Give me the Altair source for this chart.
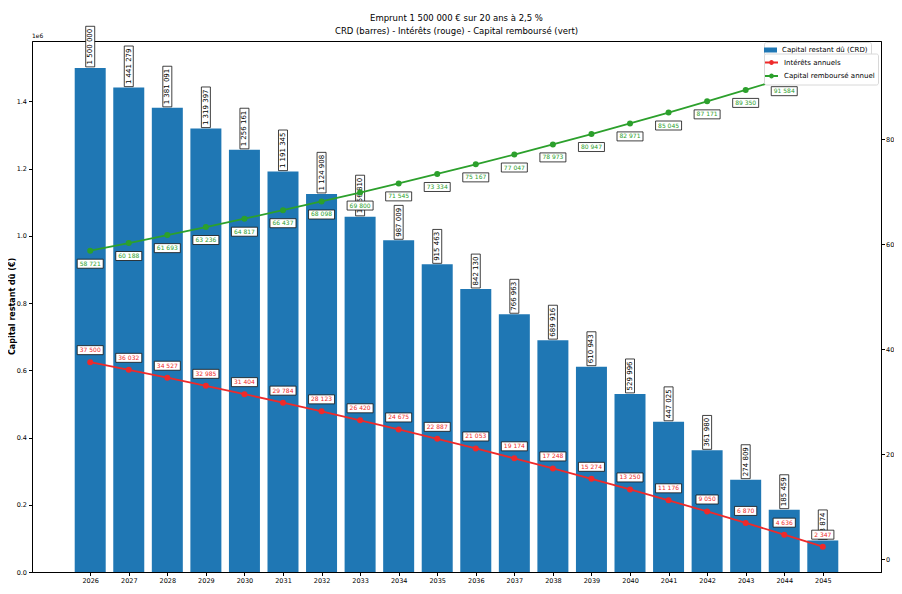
import altair as alt
import pandas as pd

years = list(range(2026, 2046))
crd = [1500000, 1441279, 1381091, 1319397, 1256161, 1191345, 1124908, 1056810, 987009, 915463,
       842130, 766963, 689916, 610943, 529996, 447025, 361980, 274809, 185459, 93874]
interets = [37500, 36032, 34527, 32985, 31404, 29784, 28123, 26420, 24675, 22887,
            21053, 19174, 17248, 15274, 13250, 11176, 9050, 6870, 4636, 2347]
capital = [58721, 60188, 61693, 63236, 64817, 66437, 68098, 69800, 71545, 73334,
           75167, 77047, 78973, 80947, 82971, 85045, 87171, 89350, 91584, 93874]

S_CRD = "Capital restant dû (CRD)"
S_INT = "Intérêts annuels"
S_CAP = "Capital remboursé annuel"
BLUE, RED, GREEN = "#1f77b4", "#ee2a2a", "#2ca02c"
FONT = "DejaVu Sans"


def fmt(v):
    return f"{v:,}".replace(",", " ")


def tw(s, fs):
    return sum(0.318 if c == " " else 0.636 for c in s) * fs


# bar table
bars_df = pd.DataFrame({"year": years, "crd": crd, "serie": S_CRD})
bars_df["lbl"] = [fmt(v) for v in crd]


def vbox(lbl):
    L = tw(lbl, 7) + 5
    return f"M-4.5,{-1 - L:.1f}L4.5,{-1 - L:.1f}L4.5,-1L-4.5,-1Z"


bars_df["box"] = [vbox(s) for s in bars_df["lbl"]]

# lines table
rows = []
for y, i, c in zip(years, interets, capital):
    rows.append({"year": y, "serie": S_INT, "val": i, "lbl": fmt(i), "off": -12})
    rows.append({"year": y, "serie": S_CAP, "val": c, "lbl": fmt(c), "off": 13})
lines_df = pd.DataFrame(rows)


def hbox(lbl, c):
    w = tw(lbl, 6) + 5
    return (f"M{-w/2:.1f},{c-4.5:.1f}L{w/2:.1f},{c-4.5:.1f}"
            f"L{w/2:.1f},{c+4.5:.1f}L{-w/2:.1f},{c+4.5:.1f}Z")


lines_df["box"] = [hbox(l, o) for l, o in zip(lines_df["lbl"], lines_df["off"])]

X = alt.X("year:Q",
          scale=alt.Scale(domain=[2024.62, 2046.38], nice=False, zero=False),
          axis=alt.Axis(values=years, format="d", title="Année", titleFontWeight="bold",
                        titleFontSize=8, titlePadding=1, labelPadding=2))

YL = alt.Y("crd:Q", scale=alt.Scale(domain=[0, 1580000], nice=False),
           axis=alt.Axis(values=[0, 200000, 400000, 600000, 800000, 1000000, 1200000, 1400000],
                         labelExpr="format(datum.value/1000000, '.1f')",
                         title="Capital restant dû (€)", titleFontWeight="bold", titleFontSize=8,
                         titleX=-16, titleY=265, orient="left"))

YR = alt.Y("val:Q", scale=alt.Scale(domain=[-2476, 98667], nice=False, zero=False),
           axis=alt.Axis(values=[0, 20000, 40000, 60000, 80000], format="d", title=None,
                         orient="right", labelPadding=1))

bars = alt.Chart(bars_df).mark_bar(size=31).encode(
    x=X, y=YL,
    fill=alt.Fill("serie:N", scale=alt.Scale(domain=[S_CRD], range=[BLUE]),
                  legend=alt.Legend(title=None, orient="none", legendX=732, legendY=1,
                                    symbolType="M-1.6,-0.5L1,-0.5L1,0.5L-1.6,0.5Z",
                                    symbolSize=100, symbolStrokeWidth=0))
)
bar_boxes = alt.Chart(bars_df).mark_point(filled=True, fill="white", stroke="#111",
                                          strokeWidth=0.8, opacity=1, size=4).encode(
    x=X, y=YL, shape=alt.Shape("box:N", scale=None, legend=None)
)
bar_text = alt.Chart(bars_df).mark_text(angle=270, align="left", baseline="middle", dx=3.5,
                                        fontSize=7, font=FONT, color="black").encode(
    x=X, y=YL, text="lbl:N"
)
e6 = alt.Chart(alt.Data(values=[{}])).mark_text(align="left", baseline="bottom", fontSize=6,
                                                font=FONT, color="black").encode(
    x=alt.value(0), y=alt.value(-2), text=alt.value("1e6")
)

left = alt.layer(bars, bar_boxes, bar_text, e6)

lines = alt.Chart(lines_df).mark_line(strokeWidth=1.8).encode(
    x=X, y=YR,
    stroke=alt.Stroke("serie:N", scale=alt.Scale(domain=[S_INT, S_CAP], range=[RED, GREEN]),
                      legend=alt.Legend(title=None, orient="none", legendX=732, legendY=12.5,
                                        symbolType="M-1.6,0L1,0M-0.6,0A0.3,0.3 0 1 1 0,0A0.3,0.3 0 1 1 -0.6,0",
                                        symbolSize=100, symbolStrokeWidth=1.8))
)
pts = alt.Chart(lines_df).mark_circle(size=36, opacity=1).encode(
    x=X, y=YR,
    color=alt.Color("serie:N", scale=alt.Scale(domain=[S_INT, S_CAP], range=[RED, GREEN]),
                    legend=None)
)
lbl_boxes = alt.Chart(lines_df).mark_point(filled=True, fill="white", stroke="#111",
                                           strokeWidth=0.8, opacity=1, size=4).encode(
    x=X, y=YR, shape=alt.Shape("box:N", scale=None, legend=None)
)
txt_int = alt.Chart(lines_df).transform_filter(alt.datum.serie == S_INT).mark_text(
    dy=-12, fontSize=6, font=FONT, color=RED, baseline="middle", align="center").encode(
    x=X, y=YR, text="lbl:N")
txt_cap = alt.Chart(lines_df).transform_filter(alt.datum.serie == S_CAP).mark_text(
    dy=13, fontSize=6, font=FONT, color=GREEN, baseline="middle", align="center").encode(
    x=X, y=YR, text="lbl:N")

right = alt.layer(lines, pts, lbl_boxes, txt_int, txt_cap)

chart = alt.layer(left, right).resolve_scale(y="independent", fill="independent",
                                              stroke="independent").properties(
    width=849, height=531,
    autosize=alt.AutoSizeParams(type="none"),
    padding={"left": 24, "top": 33, "right": 13, "bottom": 12},
    title=alt.TitleParams(
        text=["Emprunt 1 500 000 € sur 20 ans à 2,5 %",
              "CRD (barres) - Intérêts (rouge) - Capital remboursé (vert)"],
        fontSize=8.5, fontWeight="normal", font=FONT, anchor="middle", offset=5, dy=16,
        lineHeight=13.5, color="black"),
).configure_view(stroke="black", strokeWidth=1).configure_axis(
    grid=False, domainColor="black", tickColor="black", labelColor="black",
    labelFont=FONT, labelFontSize=6.5, titleFont=FONT, titleColor="black",
    tickSize=3.5, labelPadding=2, domainWidth=1
).configure_legend(
    labelFont=FONT, labelFontSize=7, labelColor="black", fillColor="white",
    strokeColor="#d8d8d8", padding=3, rowPadding=1.5, cornerRadius=2,
    labelLimit=200, labelOffset=5
)

chart.save("out.html", embed_options={"renderer": "svg", "actions": False})
